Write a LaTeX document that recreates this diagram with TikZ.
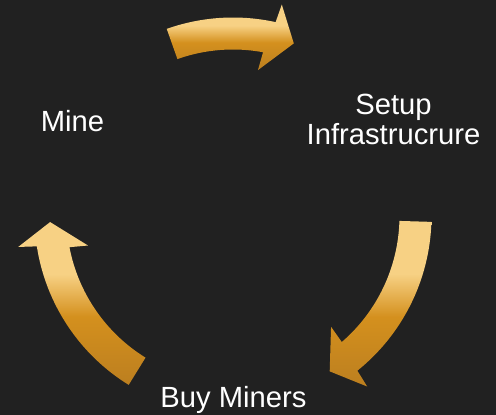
\documentclass[tikz,border=0pt]{standalone}
\usepackage{fontspec}
\setmainfont{Liberation Sans}
\definecolor{bg}{HTML}{212121}
\definecolor{goldA}{HTML}{F7D184}
\definecolor{goldB}{HTML}{D4901E}
\definecolor{goldC}{HTML}{BC7F1F}
\pgfdeclareverticalshading{goldshade}{100bp}{color(0bp)=(goldC); color(25bp)=(goldC); color(46bp)=(goldB); color(59bp)=(goldA); color(75bp)=(goldA); color(100bp)=(goldA)}
% #1 mid angle, #2 tail, #3 outer base, #4 outer barb, #5 tip, #6 inner barb, #7 inner base
\newcommand\cyclearrow[7]{%
  \shade[shading=goldshade] ({#1+#2}:198.5) arc[start angle={#1+#2}, end angle={#1+#3}, radius=198.5]
    -- ({#1+#4}:217) -- ({#1+#5}:183) -- ({#1+#6}:148) -- ({#1+#7}:166.5)
    arc[start angle={#1+#7}, end angle={#1+#2}, radius=166.5] -- cycle;}
\begin{document}
\begin{tikzpicture}[x=1pt,y=1pt,
  lbl/.style={text=white, inner sep=0pt, font=\fontsize{29.2}{30}\selectfont, align=center}]
\fill[bg] (0,0) rectangle (496,415);
\useasboundingbox (0,0) rectangle (496,415);
\begin{scope}[shift={(233,199)}]
  \cyclearrow{90}{19.5}{-12.4}{-13}{-19.4}{-9.7}{-10.4}
  \cyclearrow{-30}{28.3}{-21.2}{-21.8}{-28.1}{-18.5}{-19.2}
  \cyclearrow{210}{28.3}{-21.2}{-21.8}{-28.1}{-18.5}{-19.2}
\end{scope}
\node[lbl, anchor=base] (mine) at (72.5,283) {Mine};
\node[lbl, anchor=base] (setup) at (393.5,270) {Setup\\Infrastrucrure};
\node[lbl, anchor=base] (buy) at (233.5,7) {Buy Miners};
\end{tikzpicture}
\end{document}
